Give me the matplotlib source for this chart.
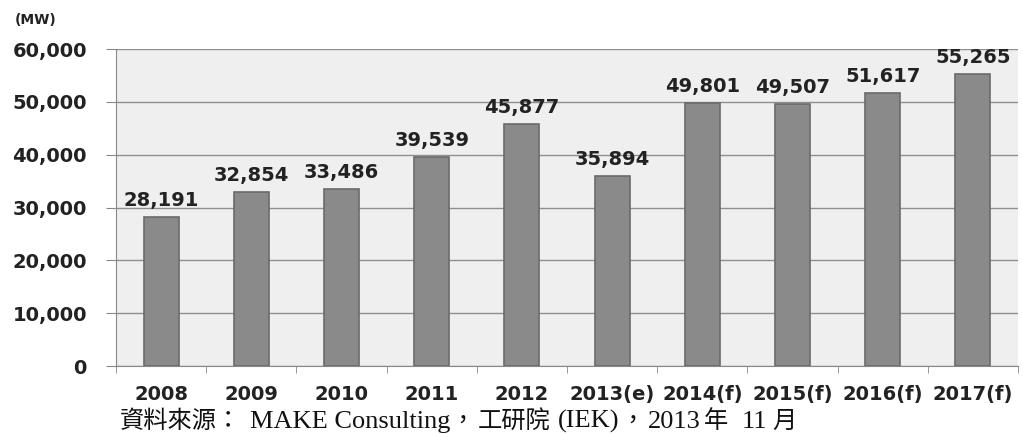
import matplotlib.pyplot as plt
import numpy as np

# datos del gráfico
categorias = ['2008', '2009', '2010', '2011', '2012', '2013(e)',
              '2014(f)', '2015(f)', '2016(f)', '2017(f)']
valores = [28191, 32854, 33486, 39539, 45877, 35894, 49801, 49507, 51617, 55265]
ticks_y = [0, 10000, 20000, 30000, 40000, 50000, 60000]
unidad = '(MW)'
# fuente dividida en trozos (texto, es_cjk)
fuente = [('資料來源：', True), ('MAKE Consulting', False), ('，', True),
          ('工研院', True), ('(IEK)', False), ('，', True), ('2013', False),
          ('年', True), ('11', False), ('月', True)]

W, H = 1023, 434
fig = plt.figure(figsize=(W / 100, H / 100), dpi=100)
ax = fig.add_axes([116 / W, 68 / H, 902 / W, 317 / H])
ax.set_facecolor('#efefef')

x = np.arange(len(categorias))
ax.bar(x, valores, width=0.39, color='#8a8a8a',
       edgecolor='#6a6a6a', linewidth=1.2, zorder=3)

# etiquetas encima de cada barra
for xi, v in zip(x, valores):
    ax.annotate(f'{v:,}', xy=(xi, v), xytext=(0, 5), textcoords='offset points',
                ha='center', va='bottom', fontsize=14, fontweight='bold',
                color='#222222')

ax.set_xlim(-0.5, len(categorias) - 0.5)
ax.set_ylim(0, 60000)
ax.set_yticks(ticks_y)
ax.set_yticklabels([f'{t:,}' for t in ticks_y], fontsize=14, fontweight='bold',
                   color='#222222')
ax.set_xticks(x)
ax.set_xticklabels(categorias, fontsize=14, fontweight='bold', color='#222222')
ax.tick_params(axis='x', length=0, pad=14)
ax.set_xticks(np.arange(len(categorias) + 1) - 0.5, minor=True)
ax.tick_params(axis='x', which='minor', length=5, color='#888888')
ax.tick_params(axis='y', length=7, color='#888888', pad=14)

ax.grid(axis='y', color='#8f8f8f', linewidth=1, zorder=0)
for s in ['top', 'right']:
    ax.spines[s].set_visible(False)
ax.spines['left'].set_color('#888888')
ax.spines['bottom'].set_color('#888888')

fig.text(15 / W, 1 - 20 / H, unidad, fontsize=10, fontweight='bold',
         color='#222222', va='center')

# posiciones x (px) de cada trozo de la fuente
pos_x = [120, 250, 450, 478, 558, 620, 648, 704, 742, 772]
for (txt, cjk), px in zip(fuente, pos_x):
    if cjk:
        fig.text(px / W, 6 / H, txt, fontsize=17.5, family='Noto Sans CJK TC',
                 color='#111111', va='baseline')
    else:
        fig.text(px / W, 6 / H, txt, fontsize=19, family='Liberation Serif',
                 color='#111111', va='baseline')

plt.savefig('out.png', dpi=100)
